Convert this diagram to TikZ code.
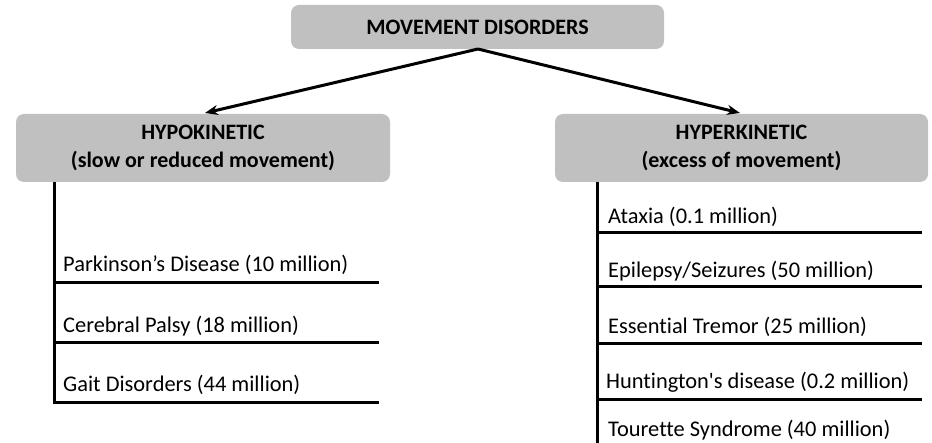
\documentclass[tikz,border=0pt]{standalone}
\usepackage{fontspec}
\setmainfont{Carlito}[Ligatures={TeX,NoCommon}]
\usetikzlibrary{arrows.meta}
\definecolor{boxgray}{HTML}{C0C0C0}
\begin{document}
\begin{tikzpicture}[x=1pt,y=-1pt,
  hdr/.style={draw=none,fill=boxgray,rounded corners=8pt,align=center,font=\fontsize{22}{28.5}\selectfont\bfseries,inner sep=0pt},
  item/.style={anchor=west,font=\fontsize{22.4}{26}\selectfont,inner sep=0pt},
  conn/.style={line width=3pt,-{Stealth[length=13pt,width=10pt]}},
  bar/.style={line width=3pt}]
\path[use as bounding box] (0,0) rectangle (932,443);
\node[hdr,minimum width=373pt,minimum height=44pt] (top) at (477.5,27) {MOVEMENT DISORDERS};
\node[hdr,minimum width=374pt,minimum height=68pt,text depth=3pt] (hypo) at (203,148) {HYPOKINETIC\\(slow or reduced movement)};
\node[hdr,minimum width=373pt,minimum height=68pt,text depth=3pt] (hyper) at (741.5,148) {HYPERKINETIC\\(excess of movement)};
\coordinate (apex) at (478,49);
\draw[conn] (apex) -- (205,113);
\draw[conn] (apex) -- (740,113);
% left branch
\coordinate (lt) at (54,182);
\coordinate (lb) at (54,404.5);
\draw[bar] (lt) -- (lb);
\node[item] (p1) at (63,265) {Parkinson’s Disease (10 million)};
\node[item] (p2) at (63,326) {Cerebral Palsy (18 million)};
\node[item] (p3) at (63,385) {Gait Disorders (44 million)};
\coordinate (l1) at (379,283);
\coordinate (l2) at (379,343);
\coordinate (l3) at (379,403);
\draw[bar] (54,283) -- (l1);
\draw[bar] (54,343) -- (l2);
\draw[bar] (52.5,403) -- (l3);
% right branch
\coordinate (rt) at (597,182);
\coordinate (rb) at (597,443);
\draw[bar] (rt) -- (rb);
\node[item] (q1) at (608,217) {Ataxia (0.1 million)};
\node[item] (q2) at (608,271) {Epilepsy/Seizures (50 million)};
\node[item] (q3) at (608,327) {Essential Tremor (25 million)};
\node[item] (q4) at (606,382) {Huntington\textquotesingle s disease (0.2 million)};
\node[item] (q5) at (608,430) {Tourette Syndrome (40 million)};
\coordinate (r1) at (922,233);
\coordinate (r2) at (922,287);
\coordinate (r3) at (922,344);
\coordinate (r4) at (922,400);
\draw[bar] (597,233) -- (r1);
\draw[bar] (597,287) -- (r2);
\draw[bar] (597,344) -- (r3);
\draw[bar] (597,400) -- (r4);
\end{tikzpicture}
\end{document}
